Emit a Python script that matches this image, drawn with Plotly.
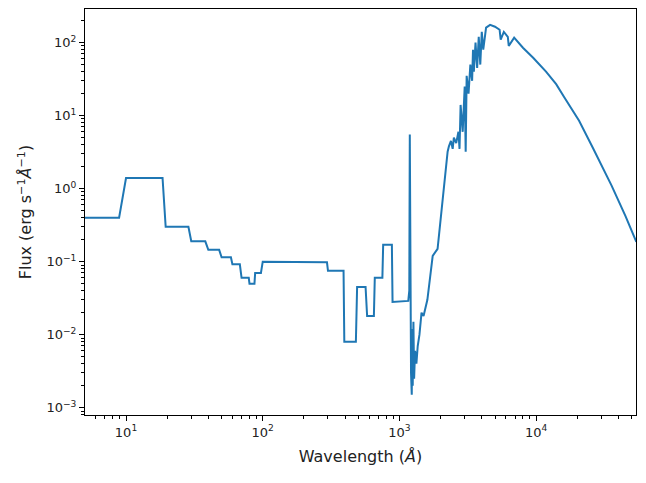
import plotly.graph_objects as go

# wavelength (Angstrom) and flux
wavelength = [5, 8.9, 10, 18.5, 19.5, 28.6, 30, 38, 40, 48, 50, 58.5, 60, 68, 70, 79, 80, 87, 88, 97,
              100, 200, 295, 300, 390, 395, 480, 490, 565, 580, 650, 660, 750, 760, 880, 890, 1160,
              1180, 1190, 1215, 1230, 1240, 1250, 1265, 1280, 1300, 1330, 1360, 1400, 1450, 1500,
              1600, 1750, 1900, 2050, 2250, 2300, 2380, 2450, 2500, 2600, 2700, 2750, 2800, 2900,
              3000, 3050, 3100, 3200, 3300, 3400, 3450, 3500, 3600, 3700, 3800, 3900, 4000, 4100,
              4300, 4600, 5000, 5400, 5500, 5800, 6200, 6300, 6900, 8000, 9500, 11800, 14000, 16000,
              20600, 26000, 35600, 45000, 54000]
flux = [0.4, 0.4, 1.4, 1.4, 0.3, 0.3, 0.19, 0.19, 0.145, 0.145, 0.115, 0.115, 0.092, 0.092, 0.06, 0.06,
        0.05, 0.05, 0.07, 0.07, 0.1, 0.1, 0.098, 0.075, 0.075, 0.008, 0.008, 0.045, 0.045, 0.018,
        0.018, 0.06, 0.06, 0.17, 0.17, 0.028, 0.029, 0.04, 5.5, 0.003, 0.0015, 0.012, 0.002, 0.015,
        0.0025, 0.006, 0.004, 0.007, 0.01, 0.02, 0.018, 0.03, 0.12, 0.15, 0.6, 3.2, 3.8, 4.5, 3.5,
        5.0, 4.2, 6.0, 3.5, 14, 6, 25, 3.2, 35, 20, 50, 30, 80, 40, 100, 45, 120, 50, 140, 80, 160,
        175, 165, 150, 110, 140, 120, 90, 117, 85, 62, 40, 27, 18, 8.5, 3.6, 1.1, 0.42, 0.187]

x_ticks = [10, 100, 1000, 10000]
x_labels = ["10<sup>1</sup>", "10<sup>2</sup>", "10<sup>3</sup>", "10<sup>4</sup>"]
y_ticks = [0.001, 0.01, 0.1, 1, 10, 100]
y_labels = ["10<sup>−3</sup>", "10<sup>−2</sup>", "10<sup>−1</sup>", "10<sup>0</sup>",
            "10<sup>1</sup>", "10<sup>2</sup>"]

fig = go.Figure()
fig.add_trace(go.Scatter(x=wavelength, y=flux, mode="lines",
                         line=dict(color="#1f77b4", width=2), cliponaxis=True))

axis_style = dict(type="log", showgrid=False, zeroline=False, showline=True, mirror=True,
                  linecolor="black", linewidth=1, ticks="outside", ticklen=5, tickcolor="black",
                  automargin=False, tickfont=dict(size=13, color="#222"),
                  minor=dict(ticks="outside", ticklen=3, tickcolor="black", dtick="D1"))

# page has an 8px body margin; keep the figure small enough to avoid scrollbars
fig.update_layout(
    width=630, height=467, plot_bgcolor="white", paper_bgcolor="white",
    margin=dict(l=77, r=2, t=1, b=60), showlegend=False,
    font=dict(family="DejaVu Sans", color="#222"),
    xaxis=dict(axis_style, range=[0.70, 4.73], tickvals=x_ticks, ticktext=x_labels,
               title=dict(text="Wavelength (<i>Å</i>)", font=dict(size=16), standoff=12)),
    yaxis=dict(axis_style, range=[-3.1, 2.46], tickvals=y_ticks, ticktext=y_labels,
               title=dict(text="Flux (erg s<sup>−1</sup><i>Å</i><sup>−1</sup>)", font=dict(size=16), standoff=10)),
)

fig.write_html("out.html")
